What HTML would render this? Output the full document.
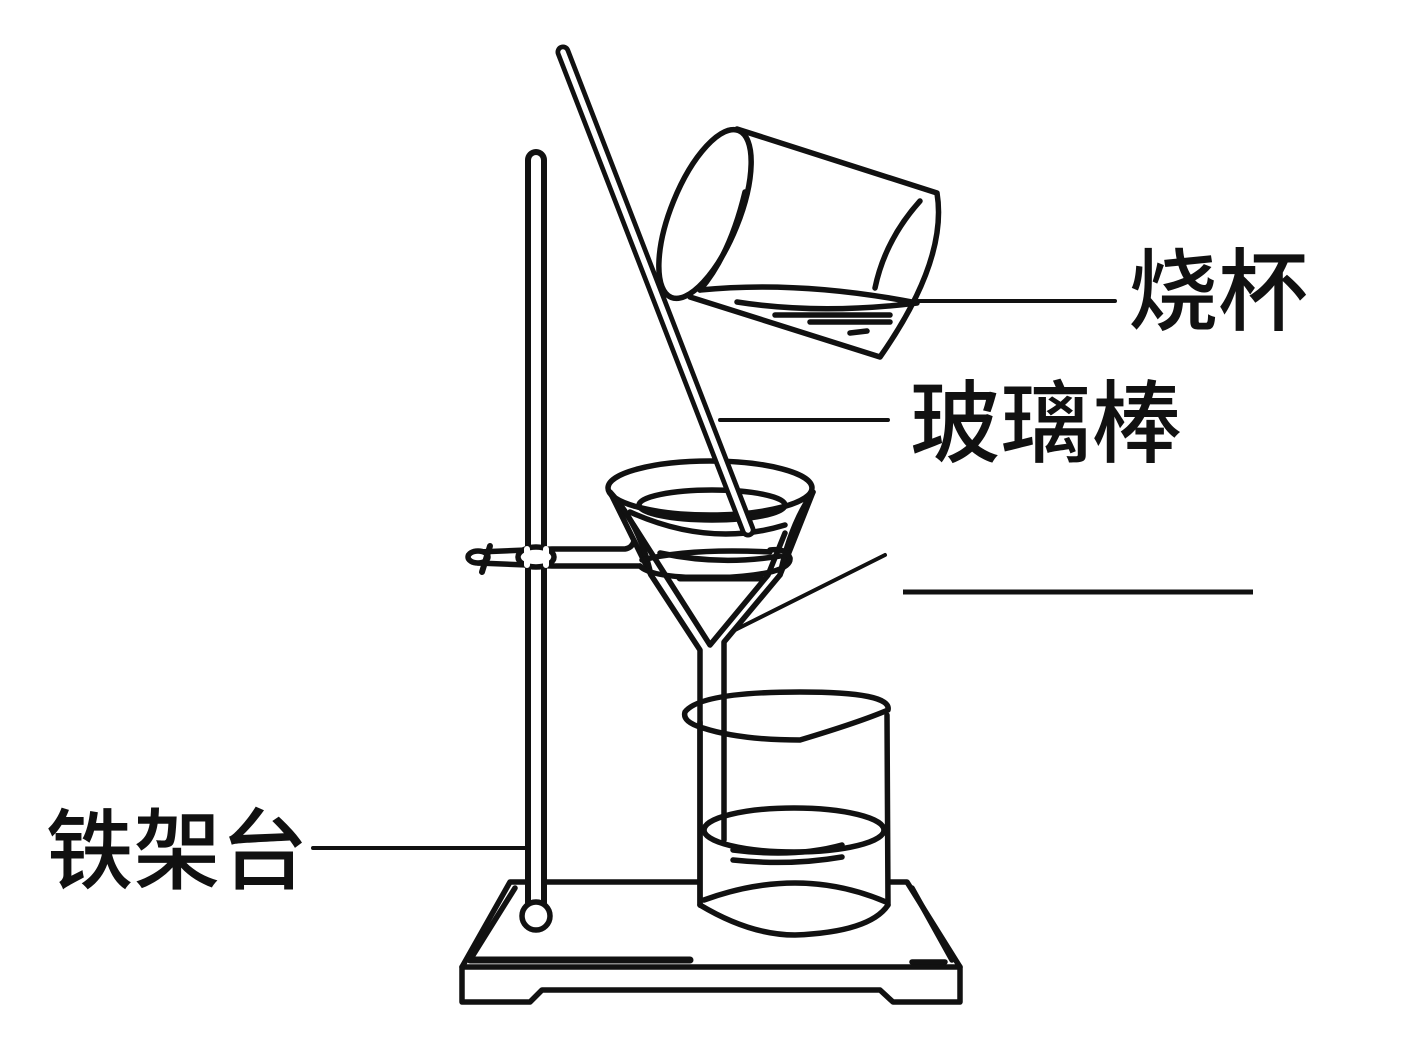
<!DOCTYPE html>
<html><head><meta charset="utf-8"><style>
html,body{margin:0;padding:0;background:#fff}
svg{display:block}
text{font-family:"Liberation Sans","Noto Sans CJK SC",sans-serif;font-weight:500;fill:#111}
</style></head><body>
<svg width="1408" height="1039" viewBox="0 0 1408 1039" xmlns="http://www.w3.org/2000/svg">
<rect width="1408" height="1039" fill="#fff"/>
<g fill="none" stroke="#111" stroke-width="5.5" stroke-linecap="round" stroke-linejoin="round">
  <!-- base -->
  <path d="M462 967 L510 882 L907 882 L960 967 Z" fill="#fff"/>
  <path d="M470 960 L515 888"/>
  <path d="M912 888 L952 960 M912 962 L945 962"/>
  <path d="M470 960 L690 960" stroke-width="7"/>
  <path d="M462 967 L462 1002 L530 1002 L542 990 L880 990 L893 1002 L960 1002 L960 967"/>
  <!-- stand rod -->
  <path d="M536 160 L536 905" stroke-width="22"/>
  <path d="M536 160 L536 905" stroke="#fff" stroke-width="10"/>
  <circle cx="536" cy="916" r="14" fill="#fff"/>
  <!-- clamp -->
  <path d="M478 552 L552 549 L625 549 Q632 548 634 541"/>
  <path d="M478 563 L552 566 L640 566"/>
  <ellipse cx="478" cy="557" rx="10" ry="6" fill="#fff"/>
  <path d="M490 546 L482 572" stroke-width="6"/>
  <ellipse cx="536" cy="557" rx="18" ry="10" fill="#fff"/>
  <path d="M527 549 L527 565 M546 549 L546 565" stroke="#fff" stroke-width="6"/>
  <!-- lower beaker body (white fill to hide base back edge) -->
  <path d="M700 720 L700 905 Q750 935 795 935 Q870 932 888 905 L887 715 Z" fill="#fff" stroke="none"/>
  <path d="M700 722 L700 905 M887 715 L888 905"/>
  <!-- funnel cone -->
  <path d="M610 492 L651 575 L700 650 L700 905" />
  <path d="M624 510 L710 645 L768 575 L785 533"/>
  <path d="M813 492 L780 575 L724 642 L724 840"/>
  <ellipse cx="710" cy="488" rx="102" ry="27" fill="#fff"/>
  <path d="M610 492 Q640 525 651 575 M813 492 Q790 525 780 575"/>
  <ellipse cx="712" cy="505" rx="73" ry="15"/>
  <path d="M630 512 Q710 548 785 525"/>
  <path d="M660 553 Q720 566 780 556"/>
  <!-- support ring -->
  <path d="M640 566 Q650 578 716 578 Q792 575 790 558 Q786 548 770 550"/>
  <path d="M642 560 Q690 548 770 552"/>
  <path d="M680 578 L760 578" stroke-width="7"/>
  <!-- pointer line for blank -->
  <path d="M735 630 L885 555" stroke-width="4"/>
  <!-- lower beaker details -->
  <path d="M685 712 Q700 692 800 692 Q892 692 888 710 Q860 722 800 740 Q740 740 703 728 Q682 722 685 712 Z" fill="none"/>
  <ellipse cx="794" cy="830" rx="90" ry="22"/>
  <path d="M733 850 Q795 858 842 845 M733 860 Q790 866 842 857"/>
  <path d="M700 905 Q750 935 795 935 Q870 932 888 905"/>
  <path d="M704 900 Q800 865 886 902"/>
  <!-- glass rod -->
  <path d="M563 52 L748 530" stroke-width="15"/>
  <path d="M563 52 L748 530" stroke="#fff" stroke-width="5.5"/>
  <path d="M720 420 L888 420" stroke-width="4"/>
  <!-- tilted beaker -->
  <path d="M737 129 L937 193 Q948 260 880 357 L690 297" fill="#fff"/>
  <ellipse cx="705" cy="214" rx="34" ry="90" transform="rotate(22 705 214)" fill="#fff"/>
  <path d="M745 192 Q730 255 700 290"/>
  <path d="M920 201 Q885 240 875 288"/>
  <path d="M700 290 Q800 280 917 303 Q820 315 737 302"/>
  <path d="M775 315 L890 315 M810 322 L890 322 M850 333 L867 331"/>
  <path d="M917 301 L1115 301" stroke-width="4"/>
  <!-- iron stand label line -->
  <path d="M313 848 L526 848" stroke-width="4"/>
  <!-- blank line -->
  <path d="M903 592 L1253 592" stroke-width="5" stroke-linecap="butt"/>
</g>
<text x="1128" y="323" font-size="90" textLength="180" lengthAdjust="spacingAndGlyphs">烧杯</text>
<text x="910" y="455" font-size="90" textLength="272" lengthAdjust="spacingAndGlyphs">玻璃棒</text>
<text x="46" y="882" font-size="88" textLength="262" lengthAdjust="spacingAndGlyphs">铁架台</text>
</svg>
</body></html>
